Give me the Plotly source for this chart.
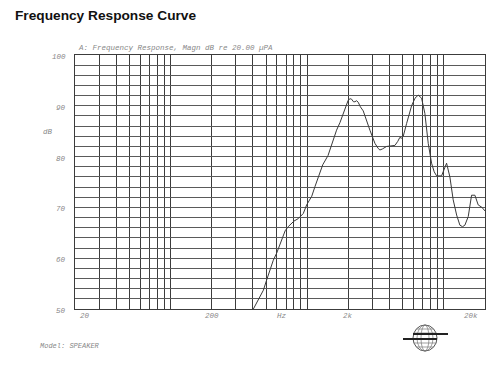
import plotly.graph_objects as go
import numpy as np

# ---- data ----
freq_hz = [400, 430, 478, 505, 565, 598, 650, 690, 726, 800, 861, 936, 991, 1080, 1140,
           1240, 1300, 1420, 1552, 1640, 1737, 1836, 1930, 1996, 2060, 2114, 2180, 2234,
           2300, 2362, 2450, 2570, 2877, 3132, 3310, 3405, 3550, 3810, 4100, 4385, 4600,
           4767, 4900, 5044, 5337, 5805, 6150, 6490, 6870, 7262, 7686, 8130, 8500, 8850,
           9620, 10100, 10470, 11070, 11700, 12400, 13100, 13700, 14250, 15080, 15950,
           16870, 17830, 19000, 20000]
level_db = [49.8, 51.3, 53.7, 55.7, 59.6, 61.0, 63.6, 65.4, 66.2, 67.3, 67.8, 68.8, 70.5, 72.2, 74.1,
            77.0, 78.4, 80.2, 83.3, 85.2, 86.7, 88.5, 90.2, 91.1, 91.4, 91.3, 90.8, 90.8,
            91.0, 90.7, 89.8, 89.0, 85.2, 82.6, 81.6, 81.3, 81.5, 82.0, 82.1, 82.2, 83.0,
            83.8, 83.6, 84.0, 86.5, 90.0, 91.5, 92.1, 91.5, 88.5, 82.6, 78.7, 77.0, 76.2,
            76.2, 77.5, 78.7, 76.0, 71.5, 68.5, 66.5, 66.2, 66.5, 68.2, 72.4,
            72.4, 70.5, 70.0, 69.3]

x_grid_hz = [20, 30, 40, 50, 60, 70, 80, 90, 100, 200, 300, 400, 500, 600, 700, 800, 900,
             1000, 2000, 3000, 4000, 5000, 6000, 7000, 8000, 9000, 10000, 20000]
x_label_hz = [20, 200, 650, 2000, 20000]
x_label_text = ["20", "200", "Hz", "2k", "20k"]
y_label_vals = [50, 60, 70, 80, 90, 100]
y_label_text = ["50", "60", "70", "80", "90", "100"]

title_text = "Frequency Response Curve"
subtitle_text = "A: Frequency Response, Magn dB re 20.00 \u00b5PA"
model_text = "Model: SPEAKER"

W, H = 500, 368
L, R, T, B = 75, 485, 55, 309

mono = "Liberation Mono, Courier New, monospace"
lab_color = "#888888"

fig = go.Figure()
fig.add_trace(go.Scatter(x=freq_hz, y=level_db, mode="lines",
                         line=dict(color="#3a3a3a", width=1), hoverinfo="skip",
                         showlegend=False))

fig.update_layout(
    width=W, height=H,
    margin=dict(l=L, r=W - R, t=T, b=H - B, pad=0),
    paper_bgcolor="white", plot_bgcolor="white",
    showlegend=False,
    xaxis=dict(type="log", range=[np.log10(20), np.log10(20000)],
               tickvals=x_grid_hz, showticklabels=False, ticks="",
               showgrid=True, gridcolor="#3c3c3c", gridwidth=1,
               showline=True, linecolor="#3c3c3c", linewidth=1, mirror=True,
               zeroline=False, fixedrange=True),
    yaxis=dict(range=[50, 100], dtick=2, tick0=50, showticklabels=False, ticks="",
               showgrid=True, gridcolor="#5a5a5a", gridwidth=1,
               showline=True, linecolor="#3c3c3c", linewidth=1, mirror=True,
               zeroline=False, fixedrange=True),
)

ann = []
ann.append(dict(text=title_text, xref="paper", yref="paper",
                x=(13 - L) / (R - L), y=(B - 15) / (B - T), xanchor="left", yanchor="middle",
                showarrow=False,
                font=dict(family="Liberation Sans, Arial", size=13.7, color="#111111", weight="bold")))
ann.append(dict(text=subtitle_text, xref="paper", yref="paper",
                x=(76 - L) / (R - L), y=(B - 48) / (B - T), xanchor="left", yanchor="middle",
                showarrow=False,
                font=dict(family=mono, size=7.5, color=lab_color, style="italic")))
ann.append(dict(text=model_text, xref="paper", yref="paper",
                x=(38 - L) / (R - L), y=(B - 346) / (B - T), xanchor="left", yanchor="middle",
                showarrow=False,
                font=dict(family=mono, size=7, color=lab_color, style="italic")))
ann.append(dict(text="dB", xref="paper", yref="paper",
                x=(55 - L) / (R - L), y=(B - 132) / (B - T), xanchor="right", yanchor="middle",
                showarrow=False,
                font=dict(family=mono, size=7.5, color=lab_color, style="italic")))
for v, t in zip(y_label_vals, y_label_text):
    ann.append(dict(text=t, xref="paper", y=v, yref="y", x=(68 - L) / (R - L),
                    xanchor="right", yanchor="middle", yshift=-2, showarrow=False,
                    font=dict(family=mono, size=7.5, color=lab_color, style="italic")))
anchors = ["left", "center", "center", "center", "right"]
for v, t, a in zip(x_label_hz, x_label_text, anchors):
    ann.append(dict(text=t, x=np.log10(v), xref="x", yref="paper", y=(B - 316) / (B - T),
                    xanchor=a, yanchor="middle", showarrow=False,
                    xshift=3 if a == "left" else (-5 if a == "right" else 0),
                    font=dict(family=mono, size=7.5, color=lab_color, style="italic")))
fig.update_layout(annotations=ann)

# ---- logo (decorative) ----
def px(x):
    return (x - L) / (R - L)

def py(y):
    return (B - y) / (B - T)

shapes = []
cx, cy, rx, ry = 425, 338, 12, 13
shapes.append(dict(type="circle", xref="paper", yref="paper",
                   x0=px(cx - rx), x1=px(cx + rx), y0=py(cy + ry), y1=py(cy - ry),
                   line=dict(color="#555555", width=1)))
for k in [4, 8]:
    shapes.append(dict(type="circle", xref="paper", yref="paper",
                       x0=px(cx - k), x1=px(cx + k), y0=py(cy + ry), y1=py(cy - ry),
                       line=dict(color="#777777", width=0.7)))
for dy in [-9, -5, 5, 9]:
    half = rx * np.sqrt(max(0, 1 - (dy / ry) ** 2))
    shapes.append(dict(type="line", xref="paper", yref="paper",
                       x0=px(cx - half), x1=px(cx + half), y0=py(cy + dy), y1=py(cy + dy),
                       line=dict(color="#777777", width=0.7)))
shapes.append(dict(type="line", xref="paper", yref="paper",
                   x0=px(413), x1=px(448), y0=py(334), y1=py(334),
                   line=dict(color="#222222", width=2)))
shapes.append(dict(type="line", xref="paper", yref="paper",
                   x0=px(403), x1=px(437), y0=py(339), y1=py(339),
                   line=dict(color="#222222", width=2)))
fig.update_layout(shapes=shapes)

fig.write_html("out.html", config={"displayModeBar": False},
               post_script="document.body.style.margin='0';document.body.style.padding='0';")
